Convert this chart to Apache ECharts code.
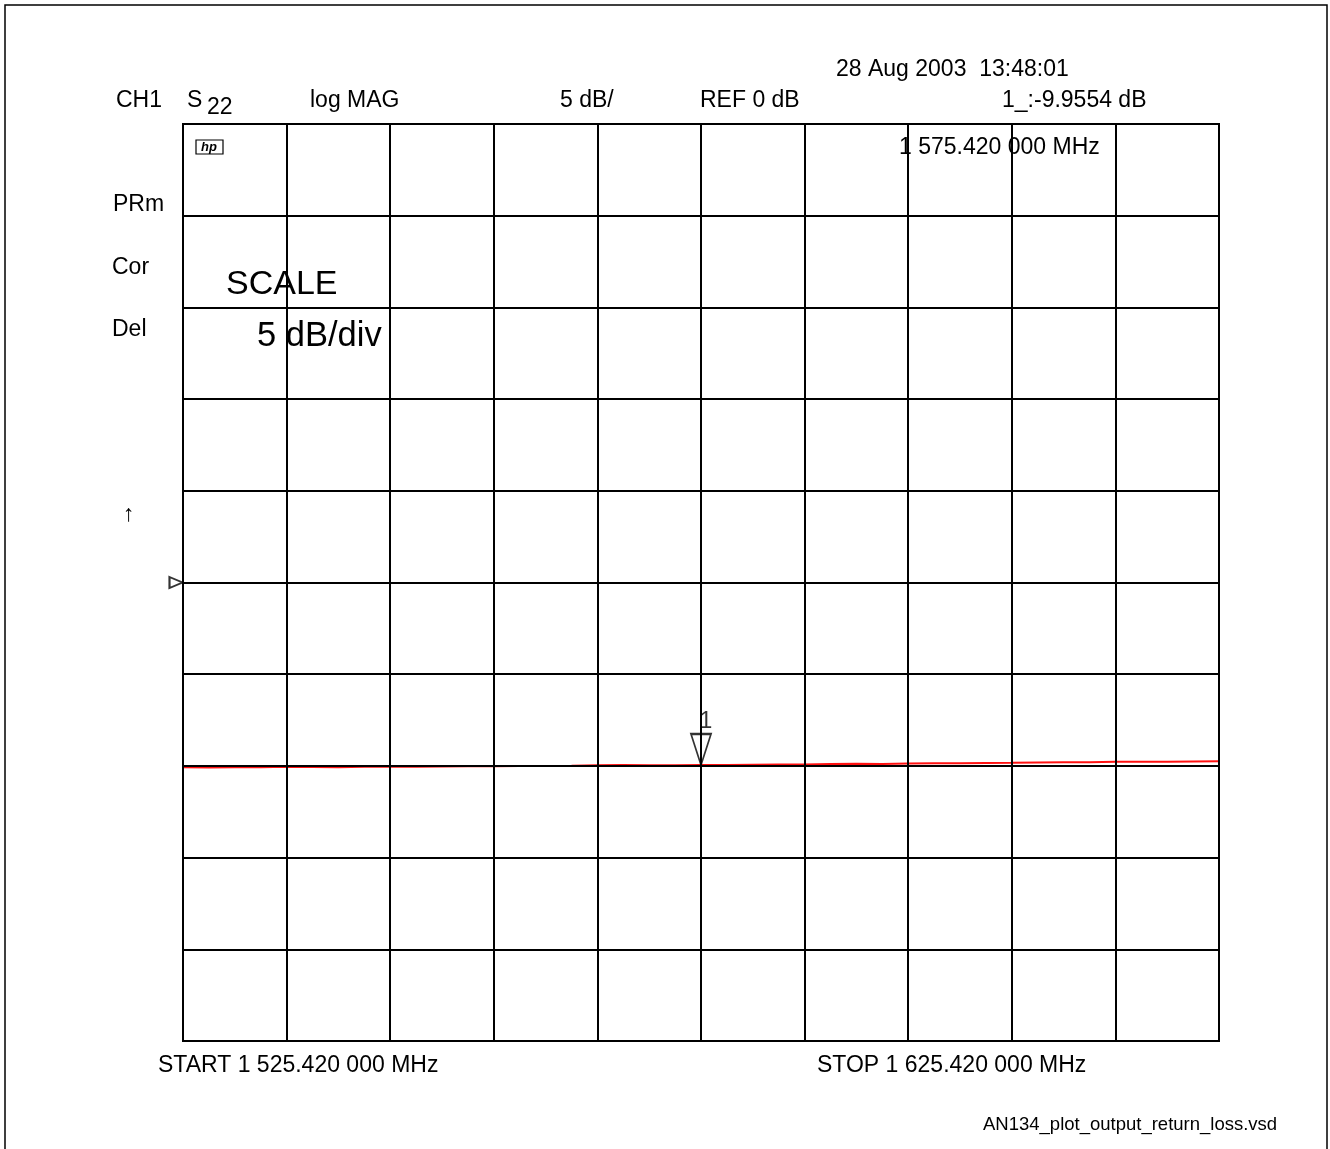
<!DOCTYPE html>
<html>
<head>
<meta charset="utf-8">
<title>S22 log MAG</title>
<script src="https://cdn.jsdelivr.net/npm/echarts@6/dist/echarts.min.js"></script>
<style>
  html, body { margin: 0; padding: 0; background: #fff; }
  #chart { width: 1330px; height: 1149px; }
</style>
</head>
<body>
<div id="chart"></div>
<script>
// sweep settings (MHz)
const startMHz = 1525.42;
const stopMHz = 1625.42;
const markerMHz = 1575.42;
const markerDb = -9.9554;
const refDb = 0;

// trace samples: offset from start (MHz) and S22 (dB)
const offsetsMHz = [0, 2.5, 5, 7.5, 10, 12.5, 15, 17.5, 20, 22.5, 25, 27.5, 30, 32.5, 35, 37.5,
  40, 42.5, 45, 47.5, 50, 52.5, 55, 57.5, 60, 62.5, 65, 67.5, 70, 72.5, 75, 77.5,
  80, 82.5, 85, 87.5, 90, 92.5, 95, 97.5, 100];
const s22Db = [-10.08, -10.09, -10.08, -10.07, -10.05, -10.06, -10.08, -10.04, -10.03, -10.05,
  -10.03, -10.02, -10.02, -10.01, -10.0, -9.99, -9.97, -9.95, -9.97, -9.96,
  -9.9554, -9.95, -9.94, -9.93, -9.92, -9.9, -9.88, -9.89, -9.87, -9.85,
  -9.86, -9.84, -9.83, -9.81, -9.8, -9.8, -9.78, -9.78, -9.77, -9.76, -9.75];

const font = '"Liberation Sans", Arial, sans-serif';

const chart = echarts.init(document.getElementById('chart'));

function txt(text, x, y, size, extra) {
  return Object.assign({
    type: 'text',
    style: { text: text, x: x, y: y, fill: '#000', font: size + 'px ' + font,
      textAlign: 'left', textVerticalAlign: 'middle' },
    z: 10
  }, extra || {});
}

const option = {
  animation: false,
  backgroundColor: '#fff',
  grid: { left: 183, right: 111, top: 124, bottom: 108, show: true,
    borderColor: '#000', borderWidth: 2, backgroundColor: 'transparent' },
  xAxis: {
    type: 'value', min: 0, max: stopMHz - startMHz, interval: 10, z: 3,
    axisLine: { show: false }, axisTick: { show: false }, axisLabel: { show: false },
    splitLine: { show: true, lineStyle: { color: '#000', width: 2 } }
  },
  yAxis: {
    type: 'value', min: -25, max: 25, interval: 5, z: 3,
    axisLine: { show: false }, axisTick: { show: false }, axisLabel: { show: false },
    splitLine: { show: true, lineStyle: { color: '#000', width: 2 } }
  },
  series: [
    {
      type: 'line', z: 2, symbol: 'none',
      lineStyle: { color: '#ff1010', width: 2 },
      data: offsetsMHz.map((f, i) => [f, s22Db[i]])
    },
    {
      // marker 1
      type: 'scatter', z: 5, clip: false,
      symbol: 'path://M0,0 L20,0 L10,31 Z', symbolSize: [20, 31], symbolOffset: [0, '-50%'],
      itemStyle: { color: 'rgba(0,0,0,0)', borderColor: '#000', borderWidth: 2 },
      label: { show: true, position: 'top', distance: 0, offset: [5, 0], formatter: '1',
        color: '#000', fontSize: 23, fontFamily: font },
      data: [[markerMHz - startMHz, markerDb]]
    },
    {
      // reference level pointer
      type: 'scatter', z: 5, clip: false,
      symbol: 'path://M0,0 L13,5.5 L0,11 Z', symbolSize: [13, 11], symbolOffset: [-7, 0],
      itemStyle: { color: 'rgba(0,0,0,0)', borderColor: '#000', borderWidth: 2 },
      data: [[0, refDb]]
    }
  ],
  graphic: [
    { type: 'rect', shape: { x: 5, y: 5, width: 1322, height: 1160 },
      style: { fill: 'none', stroke: '#000', lineWidth: 1.5 }, z: 1 },
    txt('28 Aug 2003  13:48:01', 836, 70, 23),
    txt('CH1', 116, 101, 23),
    txt('S', 187, 101, 23),
    txt('22', 207, 108, 23),
    txt('log MAG', 310, 101, 23),
    txt('5 dB/', 560, 101, 23),
    txt('REF 0 dB', 700, 101, 23),
    txt('1_:-9.9554 dB', 1002, 101, 23),
    txt('1 575.420 000 MHz', 899, 148, 23),
    { type: 'rect', shape: { x: 196, y: 140, width: 27, height: 14 },
      style: { fill: 'none', stroke: '#000', lineWidth: 1.2 }, z: 10 },
    txt('hp', 201, 147, 13, { style: { text: 'hp', x: 201, y: 147, fill: '#000',
      font: 'italic bold 13px ' + font, textAlign: 'left', textVerticalAlign: 'middle' } }),
    txt('PRm', 113, 205, 23),
    txt('Cor', 112, 268, 23),
    txt('Del', 112, 330, 23),
    txt('SCALE', 226, 285, 34),
    txt('5 dB/div', 257, 336, 34.5),
    txt('\u2191', 123, 515, 23),
    txt('START 1 525.420 000 MHz', 158, 1066, 23),
    txt('STOP 1 625.420 000 MHz', 817, 1066, 23),
    txt('AN134_plot_output_return_loss.vsd', 983, 1125, 18.5)
  ]
};

chart.setOption(option);
</script>
</body>
</html>
